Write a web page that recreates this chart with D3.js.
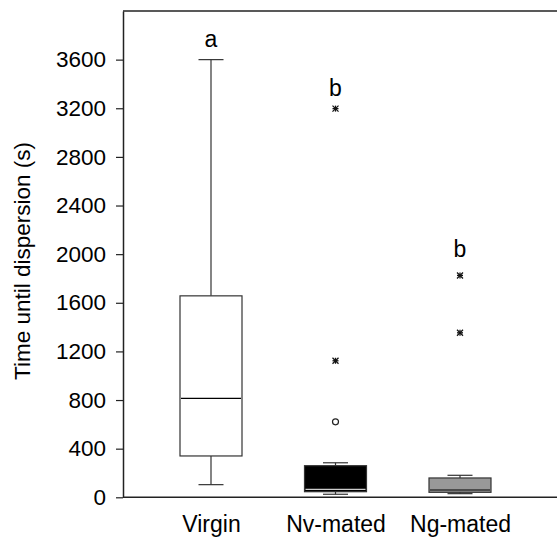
<!DOCTYPE html>
<html lang="en">
<head>
    <meta charset="UTF-8">
    <title>Time until dispersion</title>
    <style>
        body {
            margin: 0;
            background-color: #FFFFFF;
            font-family: "Liberation Sans", Arial, sans-serif;
        }
    </style>
</head>
<body>
    <div id="chart"></div>

    <script src="https://d3js.org/d3.v7.min.js"></script>
    <script>
        // Data
        const groups = ["Virgin", "Nv-mated", "Ng-mated"];
        const whiskerLow = [104, 25, 30];
        const q1 = [340, 46, 41];
        const median = [814, 66, 60];
        const q3 = [1657, 260, 159];
        const whiskerHigh = [3600, 284, 181];
        const boxFill = ["#FFFFFF", "#000000", "#999999"];
        const medianColor = ["#000000", "#CCCCCC", "#000000"];
        const letters = ["a", "b", "b"];
        const letterValue = [3700, 3300, 1975];

        // outliers: group index, value, kind
        const outlierGroup = [1, 1, 1, 2, 2];
        const outlierValue = [3197, 1123, 621, 1825, 1353];
        const outlierKind = ["star", "star", "circle", "star", "star"];

        const yTicks = [0, 400, 800, 1200, 1600, 2000, 2400, 2800, 3200, 3600];

        const width = 557;
        const height = 537;
        const margin = { top: 11, right: 0, bottom: 40, left: 123 };
        const font = "Liberation Sans, Arial, sans-serif";

        const svg = d3.select("#chart")
            .append("svg")
            .attr("width", width)
            .attr("height", height);

        const y = d3.scaleLinear()
            .domain([0, 4000])
            .range([height - margin.bottom + 0.3, margin.top]);

        const x = d3.scalePoint()
            .domain(groups)
            .range([211, 460]);

        const boxW = 62;
        const capW = 25;

        // axes
        const yAxis = svg.append("g")
            .attr("transform", `translate(${margin.left},0)`)
            .call(d3.axisLeft(y).tickValues(yTicks).tickFormat(d3.format("d"))
                .tickSize(7).tickPadding(10).tickSizeOuter(0));
        yAxis.select(".domain").attr("stroke", "#222").attr("stroke-width", 1.5);
        yAxis.selectAll(".tick line").attr("stroke", "#222").attr("stroke-width", 1.2);
        yAxis.selectAll(".tick text")
            .attr("font-size", "22.5px")
            .attr("font-family", font)
            .attr("fill", "#000");

        const xAxis = svg.append("g")
            .attr("transform", `translate(0,${y(0)})`)
            .call(d3.axisBottom(x).tickSize(0).tickPadding(18));
        xAxis.select(".domain").attr("d", `M${margin.left},0H${width}`)
            .attr("stroke", "#222").attr("stroke-width", 1.5);
        xAxis.selectAll(".tick text")
            .attr("font-size", "23px")
            .attr("font-family", font)
            .attr("fill", "#000");

        // top frame line
        svg.append("line")
            .attr("x1", margin.left).attr("x2", width)
            .attr("y1", y(4000)).attr("y2", y(4000))
            .attr("stroke", "#222").attr("stroke-width", 1.5);

        // y title
        svg.append("text")
            .attr("transform", `translate(30,261) rotate(-90)`)
            .attr("text-anchor", "middle")
            .attr("font-size", "22.5px")
            .attr("font-family", font)
            .text("Time until dispersion (s)");

        // boxes
        groups.forEach((g, i) => {
            const cx = x(g);
            const gBox = svg.append("g");
            // whiskers
            gBox.append("line")
                .attr("x1", cx).attr("x2", cx)
                .attr("y1", y(q3[i])).attr("y2", y(whiskerHigh[i]))
                .attr("stroke", "#333").attr("stroke-width", 1.2);
            gBox.append("line")
                .attr("x1", cx).attr("x2", cx)
                .attr("y1", y(q1[i])).attr("y2", y(whiskerLow[i]))
                .attr("stroke", "#333").attr("stroke-width", 1.2);
            [whiskerHigh[i], whiskerLow[i]].forEach(v => {
                gBox.append("line")
                    .attr("x1", cx - capW / 2).attr("x2", cx + capW / 2)
                    .attr("y1", y(v)).attr("y2", y(v))
                    .attr("stroke", "#333").attr("stroke-width", 1.2);
            });
            gBox.append("rect")
                .attr("x", cx - boxW / 2)
                .attr("y", y(q3[i]))
                .attr("width", boxW)
                .attr("height", y(q1[i]) - y(q3[i]))
                .attr("fill", boxFill[i])
                .attr("stroke", "#333")
                .attr("stroke-width", 1.2);
            gBox.append("line")
                .attr("x1", cx - boxW / 2 + 1).attr("x2", cx + boxW / 2 - 1)
                .attr("y1", y(median[i])).attr("y2", y(median[i]))
                .attr("stroke", medianColor[i]).attr("stroke-width", 1.2);

            // significance letter
            svg.append("text")
                .attr("x", cx)
                .attr("y", y(letterValue[i]))
                .attr("text-anchor", "middle")
                .attr("font-size", "23px")
                .attr("font-family", font)
                .text(letters[i]);
        });

        // outliers
        outlierValue.forEach((v, i) => {
            const cx = x(groups[outlierGroup[i]]);
            const cy = y(v);
            if (outlierKind[i] === "circle") {
                svg.append("circle")
                    .attr("cx", cx).attr("cy", cy).attr("r", 3)
                    .attr("fill", "#fff").attr("stroke", "#222").attr("stroke-width", 1.2);
            } else {
                const s = 3;
                const p = svg.append("g").attr("stroke", "#111").attr("stroke-width", 1.3);
                p.append("line").attr("x1", cx - s).attr("x2", cx + s).attr("y1", cy - s).attr("y2", cy + s);
                p.append("line").attr("x1", cx - s).attr("x2", cx + s).attr("y1", cy + s).attr("y2", cy - s);
                p.append("line").attr("x1", cx - s).attr("x2", cx + s).attr("y1", cy).attr("y2", cy);
                p.append("line").attr("x1", cx).attr("x2", cx).attr("y1", cy - s).attr("y2", cy + s);
            }
        });
    </script>
</body>
</html>
